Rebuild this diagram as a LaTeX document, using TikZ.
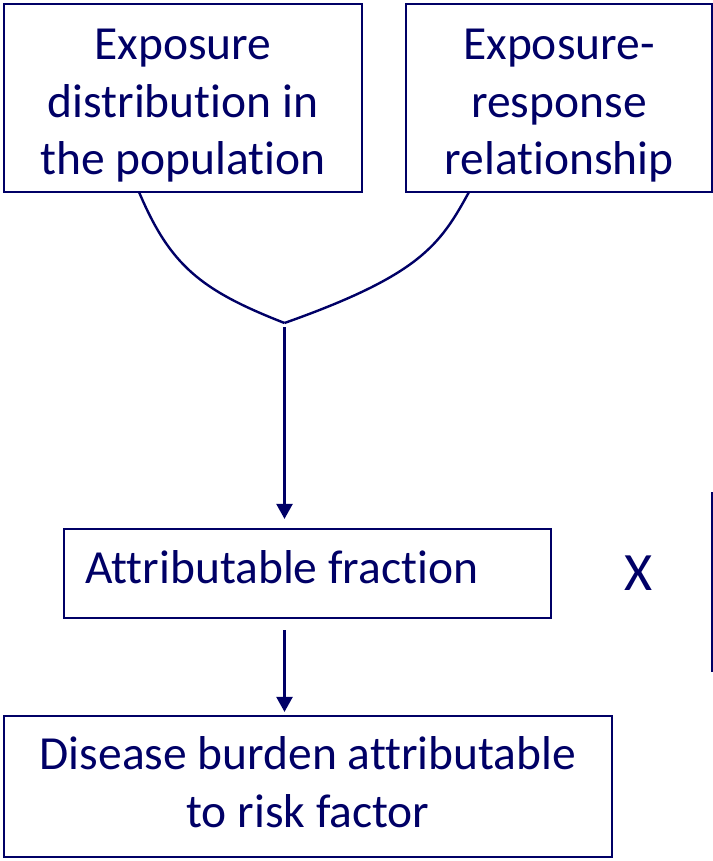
\documentclass[tikz,border=0pt]{standalone}
\usepackage{fontspec}
\setmainfont{Carlito}[RawFeature=-liga]
\usetikzlibrary{arrows.meta, positioning}
\definecolor{navyink}{RGB}{0,0,102}

\begin{document}
\begin{tikzpicture}[
        x=1pt, y=-1pt,
        box/.style={rectangle, draw=navyink, line width=2.2pt, inner sep=0pt},
        label/.style={text=navyink, inner sep=0pt, align=center, font=\fontsize{47.5}{57.5}\selectfont},
        link/.style={draw=navyink, line width=2.4pt},
        arrow/.style={-{Triangle[width=16pt, length=15pt]}, draw=navyink, fill=navyink, line width=2.4pt}
    ]
        \useasboundingbox (0,0) rectangle (712,861);

        % boxes
        \node[box, minimum width=358pt, minimum height=188pt] (expo) at (183,98) {};
        \node[box, minimum width=306pt, minimum height=188pt] (erel) at (559,98) {};
        \node[box, minimum width=487pt, minimum height=89pt] (af) at (307.5,573.5) {};
        \node[box, minimum width=608pt, minimum height=141pt] (burden) at (308,786.5) {};

        % texts (base = last line)
        \node[label, anchor=base] (expotext) at (183,175) {Exposure\\distribution in\\the population};
        \node[label, anchor=base] (ereltext) at (559,175) {Exposure-\\response\\relationship};
        \node[label, anchor=base west] (aftext) at (85,583) {Attributable fraction};
        \node[label, anchor=base] (burdentext) at (308,827) {Disease burden attributable\\to risk factor};
        \node[label, anchor=base, font=\fontsize{54}{60}\selectfont] (times) at (639,590) {X};

        % edge of the next box
        \draw[navyink, line width=2.2pt] (712,492) -- (712,672);

        \coordinate (expoout) at (139,192);
        \coordinate (erelout) at (469,192);
        \coordinate (join) at (284.5,323);

        \draw[link] (expoout) .. controls (170,265) and (200,290) .. (join);
        \draw[link] (erelout) .. controls (440,245) and (420,275) .. (join);
        \draw[arrow] ([yshift=-4pt]join) -- ([yshift=9pt]join |- af.north);
        \draw[arrow] ([yshift=-11pt]join |- af.south) -- ([yshift=3pt]join |- burden.north);
    \end{tikzpicture}
\end{document}
